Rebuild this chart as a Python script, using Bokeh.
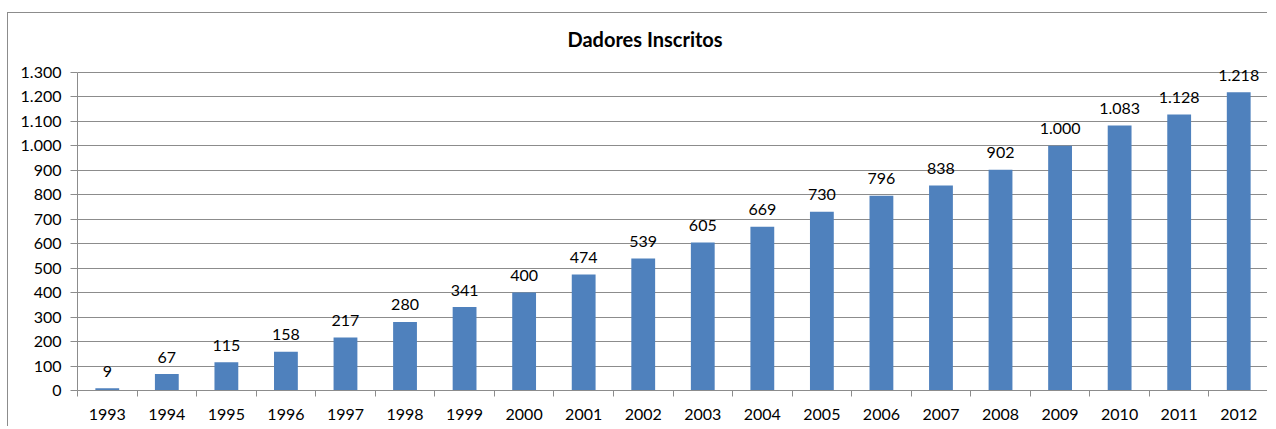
from bokeh.plotting import figure
from bokeh.models import Range1d, FixedTicker, ColumnDataSource
from bokeh.core.properties import value
from bokeh.embed import file_html
from bokeh.resources import INLINE

title_text = "Dadores Inscritos"
years = [1993, 1994, 1995, 1996, 1997, 1998, 1999, 2000, 2001, 2002,
         2003, 2004, 2005, 2006, 2007, 2008, 2009, 2010, 2011, 2012]
donors = [9, 67, 115, 158, 217, 280, 341, 400, 474, 539,
          605, 669, 730, 796, 838, 902, 1000, 1083, 1128, 1218]
y_ticks = [0, 100, 200, 300, 400, 500, 600, 700, 800, 900, 1000, 1100, 1200, 1300]


def fmt(v):
    return f"{v:,}".replace(",", ".")


FONT = "Lato"
BAR = "#4F81BD"
GRID = "#8C8C8C"

src = ColumnDataSource(dict(x=years, top=donors, lbl=[fmt(v) for v in donors]))

# small headroom above the top tick so the tallest value label is not clipped
p = figure(width=1260, height=414, output_backend="svg", toolbar_location=None,
           x_range=Range1d(years[0] - 0.5, years[-1] + 0.5),
           y_range=Range1d(y_ticks[0], y_ticks[-1] + 40),
           min_border_left=69, min_border_right=0, min_border_top=49, min_border_bottom=37)
p.outline_line_color = None
p.background_fill_color = "white"
p.border_fill_color = "white"
p.styles = {"border-top": "1px solid #8C8C8C", "border-left": "1px solid #8C8C8C",
            "margin-top": "12px", "margin-left": "7px"}

p.title.text = title_text
p.title.align = "left"
p.title.offset = 490
p.title.text_font = FONT
p.title.text_font_style = "bold"
p.title.text_font_size = "20px"
p.title.text_color = "#000000"
p.title.standoff = 23

p.vbar(x="x", top="top", bottom=0, width=0.4, source=src, fill_color=BAR, line_color=None)
p.text(x="x", y="top", text="lbl", source=src, text_align="center",
       text_baseline="alphabetic", y_offset=-17, text_font=value(FONT),
       text_font_size="16px", text_color="#000000")

# y axis
p.yaxis.ticker = FixedTicker(ticks=y_ticks)
p.yaxis.bounds = (y_ticks[0], y_ticks[-1])
p.yaxis.major_label_overrides = {v: fmt(v) for v in y_ticks}
p.yaxis.major_label_text_font = FONT
p.yaxis.major_label_text_font_size = "16px"
p.yaxis.major_label_text_color = "#000000"
p.yaxis.major_tick_in = 0
p.yaxis.major_tick_out = 7
p.yaxis.minor_tick_out = 0
p.yaxis.minor_tick_in = 0
p.yaxis.major_label_standoff = 9
p.yaxis.axis_line_color = GRID
p.yaxis.major_tick_line_color = GRID

# x axis: labels at centres, tick marks at category boundaries
p.xaxis.ticker = FixedTicker(ticks=years, minor_ticks=[y - 0.5 for y in years] + [years[-1] + 0.5])
p.xaxis.major_label_overrides = {y: str(y) for y in years}
p.xaxis.major_label_text_font = FONT
p.xaxis.major_label_text_font_size = "16px"
p.xaxis.major_label_text_color = "#000000"
p.xaxis.major_tick_in = 0
p.xaxis.major_tick_out = 0
p.xaxis.minor_tick_in = 0
p.xaxis.minor_tick_out = 6
p.xaxis.minor_tick_line_color = GRID
p.xaxis.major_label_standoff = 12
p.xaxis.axis_line_color = GRID

p.xgrid.grid_line_color = None
p.ygrid.grid_line_color = GRID
p.ygrid.grid_line_width = 1

open("out.html", "w").write(file_html(p, INLINE))
